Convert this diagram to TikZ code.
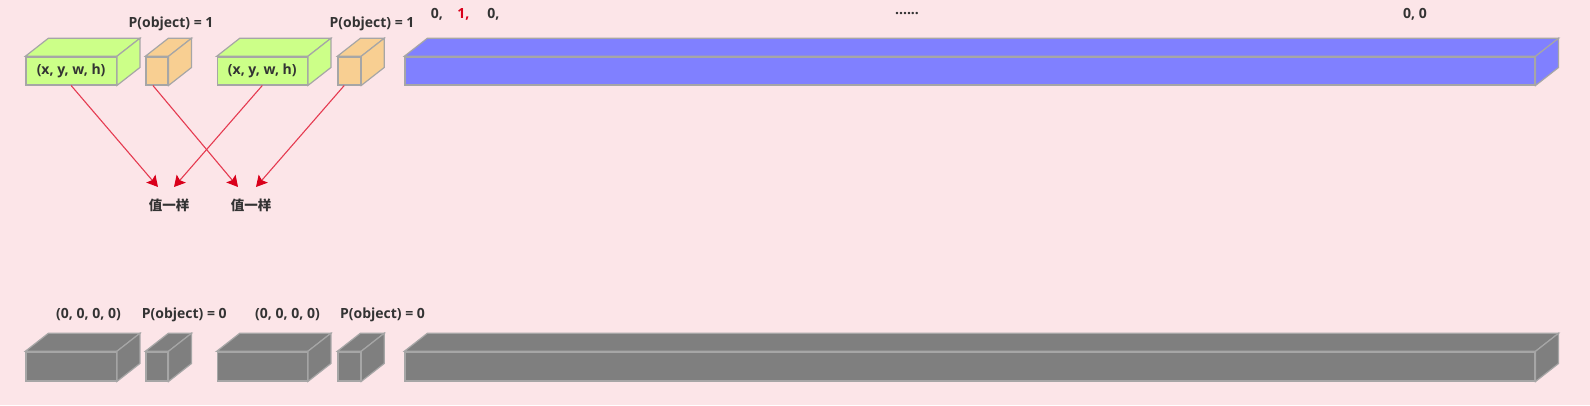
\documentclass[tikz,border=0pt]{standalone}
\usepackage{fontspec}
\setmainfont{Open Sans}
\newfontfamily\cjk{Noto Sans CJK SC}
\usetikzlibrary{calc,arrows.meta}
\definecolor{bgpink}{HTML}{FCE5E8}
\definecolor{boxgreen}{HTML}{CCFF88}
\definecolor{boxorange}{HTML}{F8CF92}
\definecolor{boxblue}{HTML}{8080FF}
\definecolor{boxgray}{HTML}{7F7F7F}
\definecolor{edgegray}{HTML}{A6A6A6}
\definecolor{linered}{HTML}{E53A50}
\definecolor{headred}{HTML}{D9001B}
\definecolor{textdark}{HTML}{333333}
\tikzset{
    face/.style={draw=edgegray,line width=1.2pt,inner sep=0pt,minimum height=28pt,anchor=north west,
        text=textdark,font=\fontsize{14}{16}\selectfont\bfseries},
    lbl/.style={text=textdark,font=\fontsize{14}{16}\selectfont\bfseries,inner sep=0pt},
    pick/.style={linered,line width=1.1pt,-{Stealth[color=headred,inset=2pt,length=11pt,width=12pt]}},
}
% top and side faces of a box drawn behind its front node
\newcommand\boxdepth[2]{
    \filldraw[draw=edgegray,line width=1.2pt,fill=#2] (#1.north west) -- ++(23,-18)
        -- ($(#1.north east)+(23,-18)$) -- (#1.north east) -- cycle;
    \filldraw[draw=edgegray,line width=1.2pt,fill=#2] (#1.north east) -- ++(23,-18)
        -- ($(#1.south east)+(23,-18)$) -- (#1.south east) -- cycle;
}

\begin{document}
\begin{tikzpicture}[x=1pt,y=-1pt]
    \fill[bgpink] (0,0) rectangle (1590,405);
    \useasboundingbox (0,0) rectangle (1590,405);

    % object cell
    \node[face,fill=boxgreen,minimum width=90.4pt] (g1) at (25.3,56.3) {\raisebox{-2pt}{(x, y, w, h)}};
    \node[face,fill=boxorange,minimum width=22pt] (o1) at (145.3,56.3) {};
    \node[face,fill=boxgreen,minimum width=90pt] (g2) at (216.7,56.3) {\raisebox{-2pt}{(x, y, w, h)}};
    \node[face,fill=boxorange,minimum width=22.7pt] (o2) at (337.3,56.3) {};
    \node[face,fill=boxblue,minimum width=1130pt] (c1) at (404.3,56.3) {};
    \boxdepth{g1}{boxgreen}
    \boxdepth{o1}{boxorange}
    \boxdepth{g2}{boxgreen}
    \boxdepth{o2}{boxorange}
    \boxdepth{c1}{boxblue}
    \node[lbl] (p1) at (171,24) {P(object) = 1};
    \node[lbl] (p2) at (372,24) {P(object) = 1};
    \node[lbl] (n1) at (437,14) {0,};
    \node[lbl,text=headred] (n2) at (463.5,14) {1,};
    \node[lbl] (n3) at (493.5,14) {0,};
    \node[lbl] (n4) at (907,14) {......};
    \node[lbl] (n5) at (1415,14) {0, 0};

    % same values
    \node[lbl,font=\fontsize{13.5}{15}\selectfont\cjk\bfseries] (v1) at (169,205) {值一样};
    \node[lbl,font=\fontsize{13.5}{15}\selectfont\cjk\bfseries] (v2) at (251,205) {值一样};
    \coordinate (t1) at (158,187);
    \coordinate (t2) at (174,187);
    \coordinate (t3) at (238,187);
    \coordinate (t4) at (256,187);
    \draw[pick] (g1.south) -- (t1);
    \draw[pick] ([xshift=-4pt]o1.south) -- (t3);
    \draw[pick] (g2.south) -- (t2);
    \draw[pick] ([xshift=-5pt]o2.south) -- (t4);

    % empty cell
    \node[face,fill=boxgray,minimum width=90.4pt,minimum height=29pt] (e1) at (25.3,351.3) {};
    \node[face,fill=boxgray,minimum width=22pt,minimum height=29pt] (f1) at (145.3,351.3) {};
    \node[face,fill=boxgray,minimum width=90pt,minimum height=29pt] (e2) at (216.7,351.3) {};
    \node[face,fill=boxgray,minimum width=22.7pt,minimum height=29pt] (f2) at (337.3,351.3) {};
    \node[face,fill=boxgray,minimum width=1130pt,minimum height=29pt] (c2) at (404.3,351.3) {};
    \boxdepth{e1}{boxgray}
    \boxdepth{f1}{boxgray}
    \boxdepth{e2}{boxgray}
    \boxdepth{f2}{boxgray}
    \boxdepth{c2}{boxgray}
    \node[lbl] (q1) at (88.5,315) {(0, 0, 0, 0)};
    \node[lbl] (q2) at (184.3,315) {P(object) = 0};
    \node[lbl] (q3) at (287.5,315) {(0, 0, 0, 0)};
    \node[lbl] (q4) at (382.5,315) {P(object) = 0};
\end{tikzpicture}
\end{document}
